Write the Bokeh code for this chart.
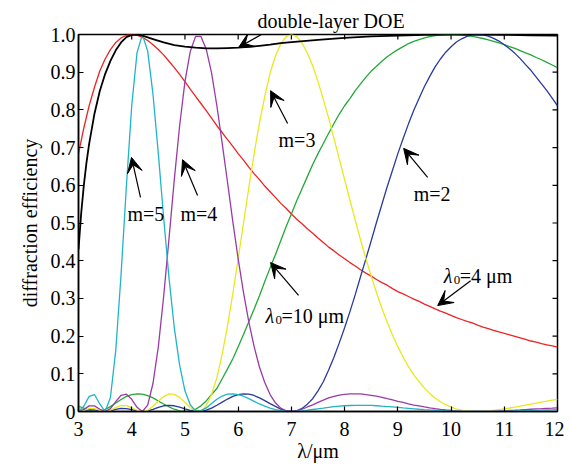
import math
from bokeh.plotting import figure
from bokeh.models import Label, Arrow, VeeHead, FixedTicker, Range1d
from bokeh.embed import file_html
from bokeh.resources import INLINE

# ---------------- data ----------------
wavelength = [3.0, 3.1, 3.2, 3.3, 3.4, 3.5, 3.6, 3.7, 3.8, 3.9,
              4.0, 4.1, 4.2, 4.3, 4.4, 4.5, 4.6, 4.7, 4.8, 4.9,
              5.0, 5.1, 5.2, 5.3, 5.4, 5.5, 5.6, 5.7, 5.8, 5.9,
              6.0, 6.1, 6.2, 6.3, 6.4, 6.5, 6.6, 6.7, 6.8, 6.9,
              7.0, 7.1, 7.2, 7.3, 7.4, 7.5, 7.6, 7.7, 7.8, 7.9,
              8.0, 8.1, 8.2, 8.3, 8.4, 8.5, 8.6, 8.7, 8.8, 8.9,
              9.0, 9.1, 9.2, 9.3, 9.4, 9.5, 9.6, 9.7, 9.8, 9.9,
              10.0, 10.1, 10.2, 10.3, 10.4, 10.5, 10.6, 10.7, 10.8, 10.9,
              11.0, 11.1, 11.2, 11.3, 11.4, 11.5, 11.6, 11.7, 11.8, 11.9, 12.0]

eta_lambda4 = [0.684, 0.752, 0.811, 0.860, 0.903, 0.935, 0.960, 0.979, 0.991, 0.998,
               1.000, 0.998, 0.9925, 0.984, 0.973, 0.960, 0.946, 0.929, 0.912, 0.894,
               0.875, 0.855, 0.836, 0.817, 0.798, 0.778, 0.758, 0.740, 0.721, 0.703,
               0.684, 0.667, 0.648, 0.631, 0.615, 0.598, 0.583, 0.568, 0.552, 0.539,
               0.524, 0.510, 0.498, 0.485, 0.473, 0.460, 0.448, 0.436, 0.426, 0.415,
               0.405, 0.395, 0.386, 0.376, 0.367, 0.359, 0.350, 0.342, 0.335, 0.326,
               0.318, 0.312, 0.305, 0.298, 0.292, 0.285, 0.279, 0.272, 0.266, 0.261,
               0.255, 0.249, 0.244, 0.239, 0.235, 0.229, 0.224, 0.220, 0.215, 0.211,
               0.207, 0.203, 0.199, 0.195, 0.191, 0.187, 0.184, 0.180, 0.177, 0.174, 0.171]

eta_lambda10 = [0.0139, 0.0087, 0.0033, 0.0002, 0.0009, 0.0056, 0.013, 0.0225, 0.0318, 0.040,
                0.045, 0.047, 0.046, 0.042, 0.036, 0.028, 0.020, 0.0125, 0.006, 0.0016,
                0.0, 0.0014, 0.006, 0.015, 0.028, 0.045, 0.061, 0.087, 0.113, 0.140,
                0.172, 0.204, 0.238, 0.272, 0.307, 0.345, 0.381, 0.416, 0.453, 0.490,
                0.524, 0.559, 0.591, 0.623, 0.655, 0.684, 0.711, 0.738, 0.764, 0.789,
                0.811, 0.830, 0.851, 0.869, 0.887, 0.903, 0.916, 0.929, 0.941, 0.951,
                0.960, 0.968, 0.976, 0.982, 0.9866, 0.991, 0.9942, 0.9969, 0.9987, 0.9997,
                1.000, 0.9997, 0.9987, 0.9972, 0.9953, 0.9925, 0.9894, 0.986, 0.982, 0.9775,
                0.973, 0.968, 0.963, 0.957, 0.951, 0.946, 0.939, 0.933, 0.926, 0.919, 0.912]

eta_m2 = [0.0, 0.0019, 0.0047, 0.0045, 0.0016, 0.0, 0.0017, 0.0054, 0.0081, 0.0077,
          0.0048, 0.0014, 0.0, 0.0014, 0.0055, 0.0108, 0.0152, 0.0162, 0.0152, 0.0118,
          0.0072, 0.0029, 0.0004, 0.0004, 0.0034, 0.009, 0.0165, 0.025, 0.033, 0.040,
          0.045, 0.047, 0.046, 0.0425, 0.036, 0.029, 0.021, 0.0135, 0.0065, 0.0017,
          0.0, 0.002, 0.0082, 0.0195, 0.034, 0.0547, 0.079, 0.110, 0.144, 0.182,
          0.222, 0.265, 0.310, 0.358, 0.405, 0.453, 0.502, 0.549, 0.596, 0.640,
          0.684, 0.724, 0.763, 0.799, 0.831, 0.862, 0.889, 0.914, 0.935, 0.953,
          0.9675, 0.980, 0.9886, 0.995, 0.9988, 1.000, 0.9988, 0.9955, 0.9897, 0.9826,
          0.973, 0.962, 0.950, 0.936, 0.920, 0.905, 0.887, 0.869, 0.851, 0.831, 0.811]

eta_m3 = [0.0, 0.003, 0.0077, 0.0075, 0.0028, 0.0, 0.0035, 0.0102, 0.016, 0.0155,
          0.010, 0.0033, 0.0, 0.0035, 0.014, 0.027, 0.0395, 0.0468, 0.0455, 0.0375,
          0.0243, 0.0107, 0.0015, 0.0015, 0.015, 0.045, 0.090, 0.152, 0.228, 0.313,
          0.405, 0.500, 0.594, 0.684, 0.766, 0.836, 0.898, 0.943, 0.975, 0.994,
          1.000, 0.9942, 0.9775, 0.951, 0.917, 0.875, 0.828, 0.778, 0.724, 0.670,
          0.615, 0.561, 0.507, 0.455, 0.405, 0.359, 0.315, 0.274, 0.237, 0.203,
          0.172, 0.144, 0.119, 0.097, 0.079, 0.062, 0.048, 0.036, 0.026, 0.018,
          0.012, 0.0065, 0.0034, 0.0014, 0.0004, 0.0, 0.0003, 0.0012, 0.0028, 0.005,
          0.0072, 0.0093, 0.0118, 0.0145, 0.017, 0.0195, 0.0225, 0.025, 0.0275, 0.030, 0.0324]

eta_m4 = [0.0, 0.0055, 0.015, 0.0148, 0.006, 0.0, 0.0075, 0.026, 0.043, 0.046,
          0.0324, 0.011, 0.0, 0.017, 0.075, 0.172, 0.305, 0.458, 0.615, 0.758,
          0.875, 0.955, 0.995, 0.995, 0.961, 0.898, 0.811, 0.711, 0.608, 0.503,
          0.405, 0.316, 0.238, 0.172, 0.118, 0.077, 0.045, 0.023, 0.009, 0.002,
          0.0, 0.0016, 0.006, 0.012, 0.0175, 0.0243, 0.030, 0.036, 0.040, 0.0435,
          0.0455, 0.0468, 0.047, 0.0465, 0.045, 0.0428, 0.0405, 0.0375, 0.034, 0.031,
          0.027, 0.024, 0.020, 0.017, 0.0148, 0.012, 0.0097, 0.0075, 0.0056, 0.004,
          0.0027, 0.0017, 0.0009, 0.0004, 0.0001, 0.0, 0.0001, 0.0003, 0.0008, 0.0013,
          0.0019, 0.0027, 0.0034, 0.0042, 0.0051, 0.006, 0.0068, 0.0075, 0.0083, 0.009, 0.0098]

eta_m5 = [0.0, 0.0138, 0.040, 0.045, 0.020, 0.0, 0.037, 0.162, 0.364, 0.598,
          0.811, 0.952, 1.000, 0.956, 0.841, 0.684, 0.514, 0.355, 0.222, 0.123,
          0.055, 0.018, 0.0015, 0.0015, 0.0095, 0.021, 0.0324, 0.041, 0.046, 0.047,
          0.045, 0.0405, 0.034, 0.027, 0.020, 0.0145, 0.009, 0.005, 0.002, 0.0005,
          0.0, 0.0005, 0.0017, 0.0033, 0.0053, 0.0072, 0.009, 0.0112, 0.0127, 0.014,
          0.0152, 0.0159, 0.016, 0.0162, 0.0162, 0.016, 0.0152, 0.014, 0.013, 0.012,
          0.0108, 0.0095, 0.0084, 0.0072, 0.006, 0.005, 0.0041, 0.0033, 0.0025, 0.0018,
          0.0011, 0.0007, 0.0004, 0.0002, 0.0, 0.0, 0.0, 0.0001, 0.0002, 0.0005,
          0.0008, 0.0011, 0.0015, 0.0019, 0.0023, 0.0027, 0.0031, 0.0036, 0.004, 0.0044, 0.0048]

wavelength_double = [3.0, 3.05, 3.1, 3.15, 3.2, 3.3, 3.4, 3.5, 3.6, 3.7, 3.8, 3.9, 4.0, 4.1,
                     4.2, 4.4, 4.6, 4.8, 5.0, 5.2, 5.4, 5.6, 5.8, 6.0, 6.2, 6.4, 6.6, 6.8,
                     7.0, 7.5, 8.0, 8.5, 9.0, 9.5, 10.0, 10.5, 11.0, 11.5, 12.0]
eta_double = [0.43, 0.525, 0.60, 0.66, 0.71, 0.79, 0.85, 0.895, 0.93, 0.958, 0.979, 0.993, 0.999, 1.0,
              0.997, 0.988, 0.979, 0.972, 0.968, 0.965, 0.963, 0.963, 0.964, 0.965, 0.967, 0.970, 0.973, 0.977,
              0.980, 0.986, 0.991, 0.995, 0.997, 0.999, 1.0, 1.0, 0.999, 0.998, 0.997]

x_ticks = [3, 4, 5, 6, 7, 8, 9, 10, 11, 12]
x_tick_labels = ["3", "4", "5", "6", "7", "8", "9", "10", "11", "12"]
y_ticks = [0.0, 0.1, 0.2, 0.3, 0.4, 0.5, 0.6, 0.7, 0.8, 0.9, 1.0]
y_tick_labels = ["0", "0.1", "0.2", "0.3", "0.4", "0.5", "0.6", "0.7", "0.8", "0.9", "1.0"]

# annotations: (text, x, y) in data units, arrows: (x_tail, y_tail, x_tip, y_tip)
plain_labels = [("m=3", 6.759, 0.719),
                ("m=5", 3.921, 0.525),
                ("m=4", 4.917, 0.525),
                ("m=2", 9.297, 0.578)]
lambda_labels = [("=10 \u03bcm", 6.515, 0.2546),
                 ("=4 \u03bcm", 9.861, 0.3607)]
arrows = [(6.665, 1.0186, 6.008, 0.9655),
          (6.929, 0.764, 6.609, 0.851),
          (4.165, 0.568, 3.996, 0.674),
          (5.237, 0.573, 4.955, 0.668),
          (9.560, 0.621, 9.109, 0.698),
          (7.135, 0.308, 6.609, 0.395),
          (10.368, 0.347, 9.748, 0.281)]

FONT = "Liberation Serif"
FS = "20px"

p = figure(width=564, height=464, x_range=Range1d(3, 12), y_range=Range1d(0, 1),
           output_backend="svg", toolbar_location=None,
           min_border_left=78, min_border_right=7, min_border_top=34, min_border_bottom=53)
p.grid.visible = False
p.outline_line_color = "black"
p.outline_line_width = 1.5
p.background_fill_color = "white"
p.border_fill_color = "white"

# text above the frame goes into the title (annotations are clipped to the frame)
p.title.text = "double-layer DOE"
p.title.align = "left"
p.title.offset = 179
p.title.text_font = FONT
p.title.text_font_size = FS
p.title.text_font_style = "normal"
p.title.text_color = "black"
p.title.standoff = 6

def style_axis(ax, ticks, labels, standoff):
    ax.ticker = FixedTicker(ticks=ticks)
    ax.major_label_overrides = {t: l for t, l in zip(ticks, labels)}
    ax.axis_line_color = "black"
    ax.axis_line_width = 1.5
    ax.major_tick_in = 5
    ax.major_tick_out = 0
    ax.major_tick_line_color = "black"
    ax.major_tick_line_width = 1.2
    ax.minor_tick_line_color = None
    ax.major_label_text_font = FONT
    ax.major_label_text_color = "black"
    ax.major_label_text_font_size = FS
    ax.major_label_standoff = standoff

style_axis(p.xaxis[0], x_ticks, x_tick_labels, 10)
style_axis(p.yaxis[0], y_ticks, y_tick_labels, 3)
p.yaxis[0].axis_label = "diffraction efficiency"
p.yaxis[0].axis_label_text_font = FONT
p.yaxis[0].axis_label_text_font_size = FS
p.yaxis[0].axis_label_text_font_style = "normal"
p.yaxis[0].axis_label_text_color = "black"
p.yaxis[0].axis_label_standoff = 7

p.xaxis[0].axis_label = "\u03bb/\u03bcm"
p.xaxis[0].axis_label_text_font = FONT
p.xaxis[0].axis_label_text_font_size = FS
p.xaxis[0].axis_label_text_font_style = "normal"
p.xaxis[0].axis_label_text_color = "black"
p.xaxis[0].axis_label_standoff = 1

# mirrored inward ticks on the top and right edges of the box
p.ray(x=x_ticks, y=[1.0] * len(x_ticks), length=5, length_units="screen",
      angle=-math.pi / 2, line_color="black", line_width=1.2)
p.ray(x=[12.0] * len(y_ticks), y=y_ticks, length=5, length_units="screen",
      angle=math.pi, line_color="black", line_width=1.2)

series = [(eta_lambda4, "#ee2424", 1.3),
          (eta_lambda10, "#22a838", 1.3),
          (eta_m2, "#2a3a9c", 1.3),
          (eta_m3, "#e8e81e", 1.3),
          (eta_m4, "#9a3aa6", 1.3),
          (eta_m5, "#1fb5c6", 1.3)]
for ys, col, lw in series:
    p.line(wavelength, ys, line_color=col, line_width=lw)
p.line(wavelength_double, eta_double, line_color="black", line_width=1.8)

for txt, x, y in plain_labels:
    p.add_layout(Label(x=x, y=y, text=txt, text_font=FONT, text_font_size=FS,
                       text_color="black", text_baseline="alphabetic", text_align="left"))

for txt, x, y in lambda_labels:
    p.add_layout(Label(x=x, y=y, text="\u03bb", text_font=FONT, text_font_size=FS,
                       text_font_style="italic", text_color="black",
                       text_baseline="alphabetic", text_align="left"))
    p.add_layout(Label(x=x, y=y, x_offset=10, y_offset=-4, text="0", text_font=FONT,
                       text_font_size="13px", text_color="black",
                       text_baseline="alphabetic", text_align="left"))
    p.add_layout(Label(x=x, y=y, x_offset=16, text=txt, text_font=FONT, text_font_size=FS,
                       text_color="black", text_baseline="alphabetic", text_align="left"))

for xs, ys, xe, ye in arrows:
    p.add_layout(Arrow(x_start=xs, y_start=ys, x_end=xe, y_end=ye,
                       line_color="black", line_width=1.2,
                       end=VeeHead(size=15, fill_color="black", line_color="black", line_width=1)))

open("out.html", "w").write(file_html(p, INLINE))
